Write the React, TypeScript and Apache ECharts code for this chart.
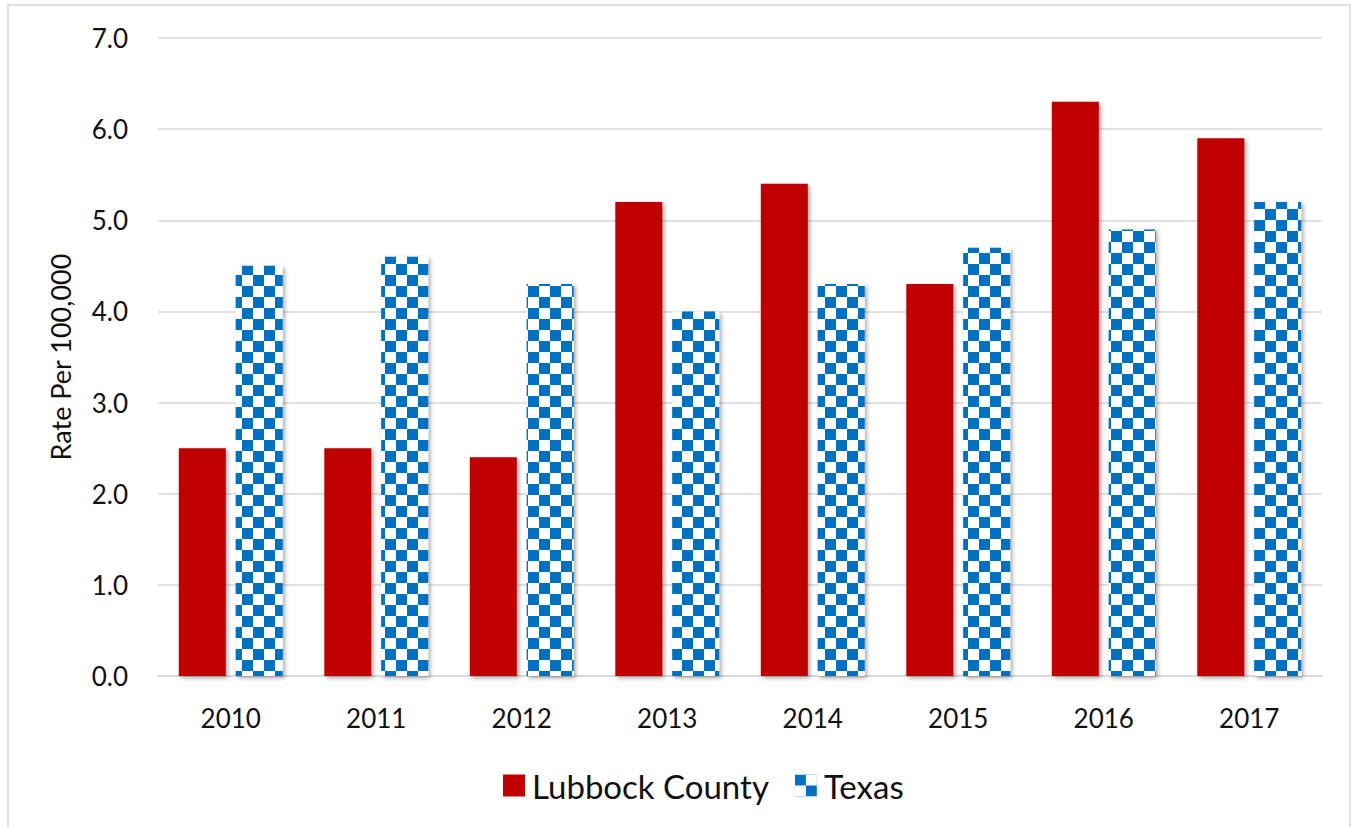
import React, { useEffect, useRef } from "react";
import * as echarts from "echarts";

const years = ["2010", "2011", "2012", "2013", "2014", "2015", "2016", "2017"];
const lubbock = [2.5, 2.5, 2.4, 5.2, 5.4, 4.3, 6.3, 5.9];
const texas = [4.5, 4.6, 4.3, 4.0, 4.3, 4.7, 4.9, 5.2];
const yTicks = { min: 0, max: 7, interval: 1 };

const FONT = "Lato, 'Open Sans', sans-serif";

function makeChecker(): string {
  const c = document.createElement("canvas");
  const s = 11;
  c.width = s * 2;
  c.height = s * 2;
  const ctx = c.getContext("2d")!;
  ctx.fillStyle = "#ffffff";
  ctx.fillRect(0, 0, s * 2, s * 2);
  ctx.fillStyle = "#0070C0";
  ctx.fillRect(0, 0, s, s);
  ctx.fillRect(s, s, s, s);
  return c.toDataURL();
}

export default function App() {
  const ref = useRef<HTMLDivElement>(null);
  useEffect(() => {
    if (!ref.current) return;
    const chart = echarts.init(ref.current, null, { renderer: "svg" });
    const checker = { image: makeChecker(), repeat: "repeat" } as any;
    const shadow = {
      shadowBlur: 4,
      shadowColor: "rgba(0,0,0,0.35)",
      shadowOffsetX: 2,
      shadowOffsetY: 2,
    };
    chart.setOption({
      animation: false,
      backgroundColor: "#ffffff",
      graphic: [
        {
          type: "rect",
          shape: { x: 8, y: 5, width: 1342, height: 830 },
          style: { fill: "none", stroke: "#D9D9D9", lineWidth: 1.5 },
          silent: true,
        },
      ],
      grid: { left: 158, right: 31, top: 38, bottom: 151 },
      legend: {
        left: 498,
        top: 764,
        itemWidth: 22,
        itemHeight: 22,
        itemGap: 26,
        textStyle: { fontFamily: FONT, fontSize: 33, color: "#111", padding: [0, 0, 0, 2] },
        data: [
          { name: "Lubbock County", icon: "rect", itemStyle: { color: "#C00000" } },
          { name: "Texas", icon: "rect" },
        ],
      },
      xAxis: {
        type: "category",
        data: years,
        axisLine: { lineStyle: { color: "#D9D9D9", width: 2 } },
        axisTick: { show: false },
        axisLabel: { fontFamily: FONT, fontSize: 26, color: "#111", margin: 29 },
      },
      yAxis: {
        type: "value",
        min: yTicks.min,
        max: yTicks.max,
        interval: yTicks.interval,
        name: "Rate Per 100,000",
        nameLocation: "middle",
        nameGap: 84,
        nameTextStyle: { fontFamily: FONT, fontSize: 27, color: "#111" },
        axisLine: { show: false },
        axisTick: { show: false },
        splitLine: { lineStyle: { color: "#D9D9D9", width: 1.5 } },
        axisLabel: {
          fontFamily: FONT,
          fontSize: 26,
          color: "#111",
          margin: 30,
          formatter: (v: number) => v.toFixed(1),
        },
      },
      series: [
        {
          name: "Lubbock County",
          type: "bar",
          data: lubbock,
          barWidth: 47,
          barGap: "21%",
          itemStyle: { color: "#C00000", ...shadow },
        },
        {
          name: "Texas",
          type: "bar",
          data: texas,
          barWidth: 47,
          itemStyle: { color: checker, ...shadow },
        },
      ],
    });
    return () => chart.dispose();
  }, []);
  return (
    <div
      ref={ref}
      style={{ position: "fixed", left: 0, top: 0, width: 1353, height: 827 }}
    />
  );
}
